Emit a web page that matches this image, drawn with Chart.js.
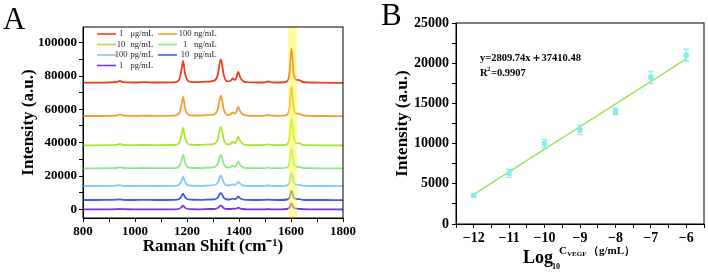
<!DOCTYPE html>
<html>
<head>
<meta charset="utf-8">
<script src="https://cdn.jsdelivr.net/npm/chart.js@4.4.1/dist/chart.umd.min.js"></script>
<style>
  html, body { margin: 0; padding: 0; background: #fff; }
  #wrap { position: relative; width: 708px; height: 272px; }
  canvas { position: absolute; top: 0; }
  #chartA { left: 0; }
  #chartB { left: 360px; }
</style>
</head>
<body>
<div id="wrap">
  <canvas id="chartA" width="360" height="272"></canvas>
  <canvas id="chartB" width="348" height="272"></canvas>
</div>
<script>
const serif = "'Liberation Serif', 'Times New Roman', serif";

// ---- Panel A: SERS spectra (offset stacked) ----
const ramanShift = [800, 850, 900, 930, 942, 955, 1000, 1030, 1080, 1150,
  1170, 1178, 1185, 1192, 1200, 1215, 1250, 1290, 1305, 1318,
  1330, 1342, 1355, 1368, 1376, 1384, 1390, 1397, 1404, 1415,
  1430, 1480, 1500, 1513, 1526, 1560, 1585, 1594, 1602, 1610,
  1620, 1632, 1645, 1670, 1720, 1800];

const spec1ug = [76000, 76000, 76100, 76400, 77000, 76300, 76100, 76300, 76100, 76200,
  77800, 83000, 89000, 82000, 77800, 76500, 76300, 76800, 77200, 80500,
  90000, 80200, 76800, 77200, 78500, 77500, 79000, 82400, 79500, 77000,
  76300, 76100, 76200, 76700, 76200, 76100, 76800, 81500, 96500, 82000,
  77800, 77500, 76400, 76100, 76000, 75900];
const spec100ng = [56000, 56000, 56100, 56300, 56900, 56300, 56100, 56200, 56100, 56200,
  57500, 62100, 67400, 61200, 57500, 56400, 56300, 56700, 57000, 59900,
  68200, 59600, 56700, 57000, 58200, 57300, 58600, 61400, 59000, 56900,
  56300, 56100, 56200, 56600, 56200, 56100, 56700, 60800, 73800, 61200,
  57600, 57300, 56400, 56100, 56000, 55900];
const spec10ng = [38400, 38400, 38500, 38700, 39200, 38600, 38500, 38600, 38500, 38600,
  39800, 44000, 48800, 43200, 39800, 38800, 38600, 39000, 39300, 41900,
  49400, 41700, 39000, 39300, 40400, 39600, 40800, 43400, 41100, 39200,
  38600, 38500, 38600, 39000, 38600, 38500, 39000, 43200, 54600, 43600,
  39800, 39600, 38700, 38500, 38400, 38300];
const spec1ng = [24600, 24600, 24700, 24800, 25200, 24800, 24700, 24800, 24700, 24700,
  25700, 28900, 32600, 28300, 25700, 24900, 24800, 25100, 25300, 27200,
  32600, 27000, 25100, 25300, 26100, 25500, 26400, 28600, 26600, 25200,
  24800, 24700, 24700, 25000, 24700, 24700, 25100, 27900, 36400, 28200,
  25600, 25500, 24800, 24700, 24600, 24500];
const spec100pg = [14000, 14000, 14100, 14200, 14500, 14100, 14000, 14100, 14000, 14100,
  14800, 17000, 19600, 16600, 14800, 14200, 14100, 14400, 14600, 16000,
  20200, 15800, 14400, 14500, 15000, 14600, 15200, 16600, 15400, 14400,
  14100, 14000, 14100, 14300, 14100, 14000, 14400, 16200, 22000, 16400,
  14800, 14700, 14200, 14000, 14000, 13900];
const spec10pg = [5600, 5600, 5700, 5800, 6000, 5700, 5600, 5700, 5600, 5700,
  6200, 7700, 9400, 7400, 6200, 5800, 5700, 5900, 6000, 7000,
  9800, 6900, 5900, 6000, 6400, 6100, 6500, 7600, 6600, 5900,
  5700, 5600, 5700, 5800, 5700, 5600, 5900, 7100, 11000, 7300,
  6200, 6100, 5700, 5600, 5600, 5500];
const spec1pg = [0, 0, 0, 100, 200, 100, 0, 0, 0, 0,
  350, 1200, 2200, 1000, 350, 100, 0, 200, 200, 800,
  2400, 700, 200, 200, 400, 300, 500, 1000, 600, 200,
  0, 0, 0, 100, 0, 0, 200, 1000, 3600, 1100,
  400, 300, 100, 0, 0, -100];

const seriesLabels = ['1 μg/mL', '100 ng/mL', '10 ng/mL', '1 ng/mL', '100 pg/mL', '10 pg/mL', '1 pg/mL'];
const seriesValues = [spec1ug, spec100ng, spec10ng, spec1ng, spec100pg, spec10pg, spec1pg];
const seriesColors = ['#e8401e', '#f0a030', '#a8e632', '#8fe88a', '#86c8f6', '#4858e6', '#7236e6'];
const highlightBand = [1590, 1622];
const yTicksA = [0, 10000, 20000, 30000, 40000, 50000, 60000, 70000, 80000, 90000, 100000];

// ---- Panel B: calibration ----
const logConc = [-12, -11, -10, -9, -8, -7, -6];
const intensityB = [3550, 6300, 10000, 11700, 14000, 18250, 21000];
const errorB = [200, 500, 500, 600, 400, 750, 750];
const fitX = [-12, -6];
const fitY = [3690, 20550];

const pointColor = '#84ecec';

// shared axis styling
function axisBase(fontSize, pad) {
    return {
        grid: { drawOnChartArea: false, drawTicks: true, tickLength: 4, color: '#000' },
        border: { display: true, color: '#000', width: 1 },
        ticks: { color: '#000', padding: pad, maxRotation: 0, autoSkip: false,
                 font: { family: serif, weight: 'bold', size: fontSize } }
    };
}

// box around the plot area
const frame = {
    id: 'frame',
    afterDraw(chart) {
        const { ctx, chartArea: a } = chart;
        ctx.save();
        ctx.strokeStyle = '#000';
        ctx.lineWidth = 1;
        ctx.strokeRect(a.left, a.top, a.right - a.left, a.bottom - a.top);
        ctx.restore();
    }
};

function panelLetter(letter, x, y) {
    return {
        id: 'letter' + letter,
        afterDraw(chart) {
            const ctx = chart.ctx;
            ctx.save();
            ctx.font = '31px ' + serif;
            ctx.fillStyle = '#000';
            ctx.textBaseline = 'alphabetic';
            ctx.fillText(letter, x, y);
            ctx.restore();
        }
    };
}

// yellow highlight over the 1600 band
const bandPlugin = {
    id: 'band',
    afterDatasetsDraw(chart) {
        const { ctx, chartArea: a, scales } = chart;
        const x1 = scales.x.getPixelForValue(highlightBand[0]);
        const x2 = scales.x.getPixelForValue(highlightBand[1]);
        ctx.save();
        ctx.fillStyle = 'rgba(255, 248, 60, 0.5)';
        ctx.fillRect(x1, a.top + 0.5, x2 - x1, a.bottom - a.top - 1);
        ctx.restore();
    }
};

// two-column legend inside the plot
const legendA = {
    id: 'legendA',
    afterDraw(chart) {
        const ctx = chart.ctx;
        ctx.save();
        ctx.font = '8.5px ' + serif;
        ctx.textBaseline = 'middle';
        chart.data.datasets.forEach((ds, i) => {
            const col = i % 2, row = Math.floor(i / 2);
            const x0 = col === 0 ? 97 : 158;
            const y = 34 + row * 10.5;
            ctx.strokeStyle = ds.borderColor;
            ctx.lineWidth = 1.6;
            ctx.beginPath();
            ctx.moveTo(x0, y);
            ctx.lineTo(x0 + 19, y);
            ctx.stroke();
            const [num, unit] = ds.label.split(' ');
            ctx.fillStyle = '#222';
            ctx.textAlign = 'center';
            ctx.fillText(num, x0 + (col === 0 ? 24 : 27), y);
            ctx.textAlign = 'left';
            ctx.fillText(unit, x0 + (col === 0 ? 33.5 : 36), y);
        });
        ctx.restore();
    }
};

const axA = axisBase(13, 2);
const ayA = axisBase(13, 2);

new Chart(document.getElementById('chartA'), {
    type: 'line',
    data: {
        datasets: seriesValues.map((vals, i) => ({
            label: seriesLabels[i],
            data: ramanShift.map((x, j) => ({ x: x, y: vals[j] })),
            borderColor: seriesColors[i],
            borderWidth: 1.8,
            pointRadius: 0,
            cubicInterpolationMode: 'monotone',
            fill: false
        }))
    },
    options: {
        responsive: false,
        animation: false,
        layout: { padding: { left: 0, right: 17, top: 27, bottom: 0 } },
        plugins: { legend: { display: false }, tooltip: { enabled: false } },
        scales: {
            x: Object.assign(axA, {
                type: 'linear', min: 800, max: 1800,
                afterFit: s => { s.height = 54; },
                ticks: Object.assign(axA.ticks, {
                    stepSize: 100,
                    callback: v => (v % 200 === 0 ? String(v) : '')
                }),
                title: { display: true, text: 'Raman Shift (cm⁻¹)', color: '#000',
                         padding: { top: 0, bottom: 15 },
                         font: { family: serif, weight: 'bold', size: 17 } }
            }),
            y: Object.assign(ayA, {
                type: 'linear', min: -5200, max: 109400,
                afterFit: s => { s.width = 83; },
                afterBuildTicks: s => { s.ticks = yTicksA.map(v => ({ value: v })); },
                ticks: Object.assign(ayA.ticks, {
                    callback: v => (v % 20000 === 0 ? String(v) : '')
                }),
                title: { display: true, text: 'Intensity (a.u.)', color: '#000',
                         padding: { top: 18, bottom: 0 },
                         font: { family: serif, weight: 'bold', size: 17 } }
            })
        }
    },
    plugins: [bandPlugin, frame, legendA, panelLetter('A', 3, 29)]
});

// error bars for the calibration points
const errorBars = {
    id: 'errorBars',
    afterDatasetsDraw(chart) {
        const meta = chart.getDatasetMeta(0);
        const ys = chart.scales.y;
        const ctx = chart.ctx;
        ctx.save();
        ctx.strokeStyle = pointColor;
        ctx.lineWidth = 1.2;
        meta.data.forEach((pt, i) => {
            const top = ys.getPixelForValue(intensityB[i] + errorB[i]);
            const bot = ys.getPixelForValue(intensityB[i] - errorB[i]);
            ctx.beginPath();
            ctx.moveTo(pt.x, top); ctx.lineTo(pt.x, bot);
            ctx.moveTo(pt.x - 3, top); ctx.lineTo(pt.x + 3, top);
            ctx.moveTo(pt.x - 3, bot); ctx.lineTo(pt.x + 3, bot);
            ctx.stroke();
        });
        ctx.restore();
    }
};

// fit equation and the composite x-axis title
const textB = {
    id: 'textB',
    afterDraw(chart) {
        const ctx = chart.ctx;
        ctx.save();
        ctx.fillStyle = '#000';
        ctx.textAlign = 'left';
        ctx.textBaseline = 'alphabetic';
        ctx.font = 'bold 10.5px ' + serif;
        ctx.fillText('y=2809.74x＋37410.48', 120, 61);
        ctx.fillText('R', 120, 76);
        ctx.font = 'bold 7px ' + serif;
        ctx.fillText('2', 127, 71);
        ctx.font = 'bold 10.5px ' + serif;
        ctx.fillText('=0.9907', 131, 76);

        ctx.font = 'bold 18px ' + serif;
        ctx.fillText('Log', 163, 263);
        ctx.font = 'bold 8px ' + serif;
        ctx.fillText('10', 192, 269);
        ctx.font = 'bold 11px ' + serif;
        ctx.fillText('C', 199, 254);
        ctx.font = 'bold 7px ' + serif;
        ctx.fillText('VEGF', 207, 256);
        ctx.font = 'bold 11px ' + serif;
        ctx.fillText('（g/mL）', 228, 254);
        ctx.restore();
    }
};

const axB = axisBase(14, 2);
const ayB = axisBase(14, 3);

new Chart(document.getElementById('chartB'), {
    type: 'scatter',
    data: {
        datasets: [
            {
                label: 'Intensity',
                data: logConc.map((x, i) => ({ x: x, y: intensityB[i] })),
                pointStyle: 'rect',
                pointRadius: 3.6,
                backgroundColor: pointColor,
                borderColor: pointColor,
                borderWidth: 0
            },
            {
                type: 'line',
                label: 'Fit',
                data: fitX.map((x, i) => ({ x: x, y: fitY[i] })),
                borderColor: '#9ee25a',
                borderWidth: 1.5,
                pointRadius: 0,
                fill: false
            }
        ]
    },
    options: {
        responsive: false,
        animation: false,
        layout: { padding: { left: 0, right: 3, top: 23, bottom: 0 } },
        plugins: { legend: { display: false }, tooltip: { enabled: false } },
        scales: {
            x: Object.assign(axB, {
                type: 'linear', min: -12.5, max: -5.5,
                afterFit: s => { s.height = 48; },
                ticks: Object.assign(axB.ticks, {
                    stepSize: 0.5, includeBounds: false,
                    callback: v => (Number.isInteger(v) ? '−' + Math.abs(v) : '')
                })
            }),
            y: Object.assign(ayB, {
                type: 'linear', min: 0, max: 25000,
                afterFit: s => { s.width = 96; },
                ticks: Object.assign(ayB.ticks, {
                    stepSize: 2500,
                    callback: v => (v % 5000 === 0 ? String(v) : '')
                }),
                title: { display: true, text: 'Intensity (a.u.)', color: '#000',
                         padding: { top: 32, bottom: 0 },
                         font: { family: serif, weight: 'bold', size: 17 } }
            })
        }
    },
    plugins: [errorBars, frame, textB, panelLetter('B', 21, 25)]
});
</script>
</body>
</html>
